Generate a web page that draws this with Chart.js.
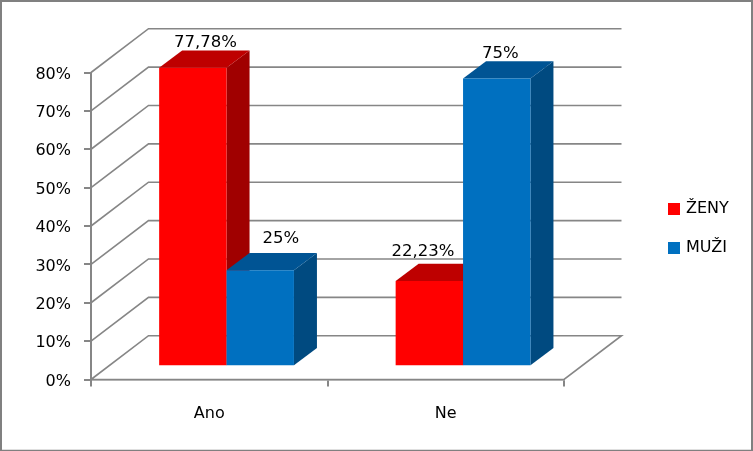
<!DOCTYPE html>
<html><head><meta charset="utf-8">
<script src="https://cdn.jsdelivr.net/npm/chart.js@4"></script>
<style>html,body{margin:0;padding:0;background:#fff}canvas{display:block}</style>
</head><body><canvas id="c" width="753" height="451"></canvas>
<script>
const categories = ["Ano", "Ne"];
const zeny = [77.78, 22.23];
const muzi = [25, 75];
const seriesNames = ["ŽENY", "MUŽI"];
const yTicksMax = 80;

const FONT = "'DejaVu Sans'";
const GRID = "#868686";
const WALL = {dx: 57.5, dy: -43.8};      // depth of the back wall
const BAR_FRONT = {dx: 17.3, dy: -13.2}; // bars stand this far behind the front edge
const BAR_DEPTH = {dx: 23, dy: -17.3};
const faces = [
  {top: "#BE0000", side: "#A00000"},
  {top: "#005494", side: "#004A80"}
];
// label nudges relative to the centre of the bar's top face (dataset, category)
const labelNudge = [
  [{x: 1, y: 0}, {x: -18, y: -4}],
  [{x: 9, y: -6}, {x: -8, y: 1}]
];

function drawFaces(c, meta, f) {
  const d = BAR_DEPTH;
  for (const el of meta.data) {
    const {x, y, base, width} = el.getProps(["x", "y", "base", "width"], true);
    const l = x - width / 2, r = x + width / 2;
    c.fillStyle = f.side;
    c.beginPath();
    c.moveTo(r, y); c.lineTo(r + d.dx, y + d.dy); c.lineTo(r + d.dx, base + d.dy); c.lineTo(r, base);
    c.closePath(); c.fill();
    c.fillStyle = f.top;
    c.beginPath();
    c.moveTo(l, y); c.lineTo(l + d.dx, y + d.dy); c.lineTo(r + d.dx, y + d.dy); c.lineTo(r, y);
    c.closePath(); c.fill();
  }
}

const scene3d = {
  id: "scene3d",
  beforeLayout(chart) {
    const l = chart.legend;
    if (l && !l._wrapped) {
      const fit = l.fit;
      l.fit = function () { fit.call(this); this.width = 189; };
      l._wrapped = true;
    }
  },
  afterLayout(chart) {
    const l = chart.legend;
    const w = l.width, h = l.height;
    l.left = 647; l.right = l.left + w;
    l.top = 178; l.bottom = l.top + h;
  },
  beforeDraw(chart) {
    const c = chart.ctx, W = chart.width, H = chart.height;
    c.save();
    c.fillStyle = "#fff";
    c.fillRect(0, 0, W, H);
    c.strokeStyle = "#808080";
    c.lineWidth = 2;
    c.beginPath();
    c.moveTo(1, H); c.lineTo(1, 1); c.lineTo(W - 1, 1); c.lineTo(W - 1, H);
    c.stroke();
    c.lineWidth = 1.3;
    c.beginPath();
    c.moveTo(0, H - 0.65); c.lineTo(W, H - 0.65);
    c.stroke();
    c.restore();
  },
  beforeDatasetsDraw(chart) {
    const c = chart.ctx, yS = chart.scales.y, a = chart.chartArea;
    c.save();
    c.strokeStyle = GRID;
    c.lineWidth = 1.6;
    for (const t of yS.ticks) {
      const p = yS.getPixelForValue(t.value);
      c.beginPath();
      c.moveTo(a.left, p);
      c.lineTo(a.left + WALL.dx, p + WALL.dy);
      c.lineTo(a.right + WALL.dx, p + WALL.dy);
      if (t.value === 0) { c.lineTo(a.right, p); c.lineTo(a.left, p); }
      c.stroke();
    }
    c.restore();

    // left series first so the right one covers its side face
    chart.data.datasets.forEach((ds, i) => {
      const meta = chart.getDatasetMeta(i);
      c.save();
      c.translate(BAR_FRONT.dx, BAR_FRONT.dy);
      drawFaces(c, meta, faces[i]);
      meta.controller.draw();
      c.restore();
    });

    c.save();
    c.font = "16.5px " + FONT;
    c.fillStyle = "#000";
    c.textAlign = "center";
    c.textBaseline = "bottom";
    chart.data.datasets.forEach((ds, i) => {
      chart.getDatasetMeta(i).data.forEach((el, j) => {
        const {x, y} = el.getProps(["x", "y"], true);
        const n = labelNudge[i][j];
        const text = String(ds.data[j]).replace(".", ",") + "%";
        c.fillText(text, x + BAR_FRONT.dx + BAR_DEPTH.dx / 2 + n.x, y + BAR_FRONT.dy + BAR_DEPTH.dy + n.y);
      });
    });
    c.restore();
    return false;
  }
};

new Chart(document.getElementById("c"), {
  type: "bar",
  data: {
    labels: categories,
    datasets: [
      {label: seriesNames[0], data: zeny, backgroundColor: "#FF0000", clip: false},
      {label: seriesNames[1], data: muzi, backgroundColor: "#0070C0", clip: false}
    ]
  },
  options: {
    responsive: false,
    animation: false,
    devicePixelRatio: 1,
    layout: {padding: {top: 72.5, left: 0, right: 0, bottom: 0}},
    categoryPercentage: 0.57,
    barPercentage: 1,
    scales: {
      x: {
        grid: {drawOnChartArea: false, offset: true, color: GRID, lineWidth: 2, tickLength: 7, drawTicks: true},
        border: {color: GRID, width: 1.6},
        ticks: {color: "#000", font: {family: FONT, size: 16}, padding: 18},
        afterFit(s) { s.height = 71.5; }
      },
      y: {
        min: 0, max: yTicksMax,
        grid: {drawOnChartArea: false, color: GRID, lineWidth: 2, tickLength: 7},
        border: {color: GRID, width: 2},
        ticks: {stepSize: 10, color: "#000", font: {family: FONT, size: 16}, padding: 13, labelOffset: 2,
                callback: v => v + "%"},
        afterFit(s) { s.width = 91; }
      }
    },
    plugins: {
      tooltip: {enabled: false},
      legend: {
        display: true, position: "right", align: "start",
        labels: {
          color: "#000", font: {family: FONT, size: 16}, boxWidth: 8, boxHeight: 8, padding: 23,
          generateLabels(chart) {
            return Chart.defaults.plugins.legend.labels.generateLabels(chart).map(it => ({
              ...it, strokeStyle: it.fillStyle, lineWidth: 4
            }));
          }
        }
      }
    }
  },
  plugins: [scene3d]
});
</script></body></html>
